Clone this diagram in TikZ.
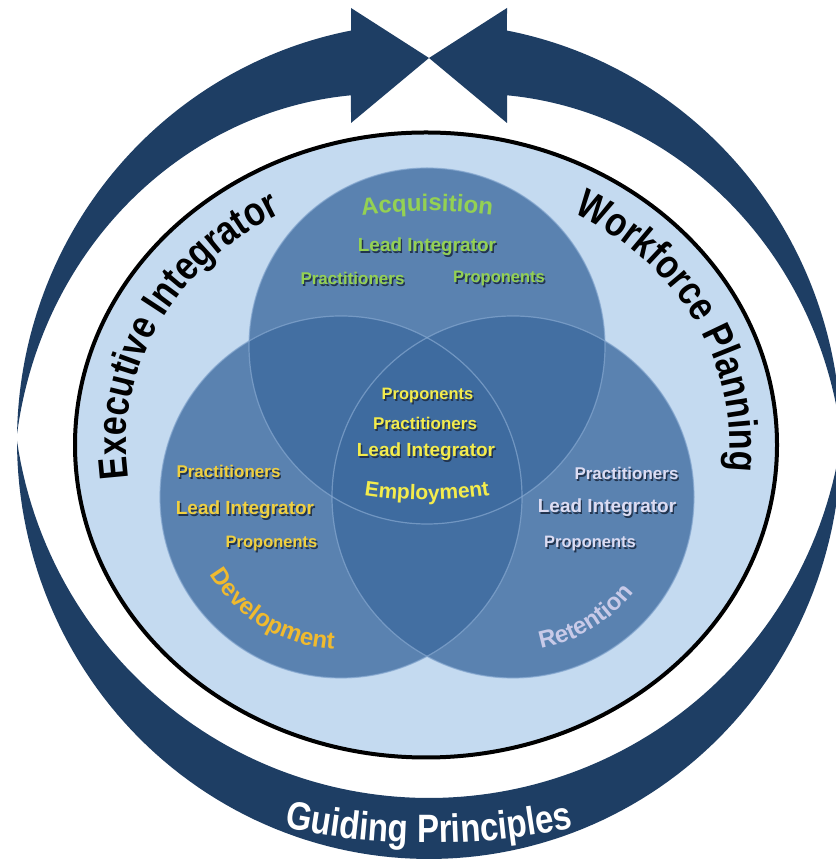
\documentclass[tikz,border=0pt]{standalone}
\usepackage{fontspec}
\setmainfont{Liberation Sans}
\usetikzlibrary{decorations.text}
\definecolor{navy}{HTML}{1E3E64}
\definecolor{diskc}{HTML}{C4DAF0}
\definecolor{vennc}{HTML}{3D6A9F}
\definecolor{vennedge}{HTML}{86A8D0}
\definecolor{grn}{HTML}{94D153}
\definecolor{ylw}{HTML}{F4EC4C}
\definecolor{ylwo}{HTML}{F0D040}
\definecolor{goldc}{HTML}{F0BA2E}
\definecolor{lav}{HTML}{DCDCF2}
\definecolor{lavd}{HTML}{C8CAE8}
\definecolor{shd}{HTML}{22344E}
\newcommand{\fs}[1]{\fontsize{#1}{#1}\selectfont}
\newcommand{\shtxt}[2]{\makebox[0pt][l]{\hspace{1.4pt}\raisebox{-1.4pt}{\textcolor{shd}{#2}}}\textcolor{#1}{#2}}
\tikzset{
  lbl/.style={anchor=base, inner sep=0pt},
  vennfill/.style={fill=vennc, fill opacity=0.78},
  vennline/.style={draw=vennedge, line width=1.2pt, draw opacity=0.7},
}
\begin{document}
\begin{tikzpicture}[x=1pt,y=1pt]
\useasboundingbox (0,0) rectangle (835,861);
\fill[white] (0,0) rectangle (835,861);
% outer ring: left arrow
\fill[navy] plot[domain=179:100.91, samples=80, variable=\t] ({429+412*cos(\t)},{420+418*sin(\t)})
  -- (351,853) -- (429,803) -- (351,738)
  -- plot[domain=102.93:179, samples=80, variable=\t] ({429+(412-0.832*(179-\t))*cos(\t)},{420+(418-0.832*(179-\t))*sin(\t)}) -- cycle;
% right arrow
\fill[navy] plot[domain=179:100.91, samples=80, variable=\t] ({429-412*cos(\t)},{420+418*sin(\t)})
  -- (507,853) -- (429,803) -- (507,738)
  -- plot[domain=102.93:179, samples=80, variable=\t] ({429-(412-0.832*(179-\t))*cos(\t)},{420+(418-0.832*(179-\t))*sin(\t)}) -- cycle;
% bottom crescent
\fill[navy] plot[domain=180:360, samples=120, variable=\t] ({429+412*cos(\t)},{420+418*sin(\t)})
  -- plot[domain=360:180, samples=120, variable=\t] ({429+(412+61*sin(\t))*cos(\t)},{420+(418+61*sin(\t))*sin(\t)}) -- cycle;
% disk
\filldraw[fill=diskc, draw=black, line width=4pt] (426,416) ellipse [x radius=351, y radius=312.5];
% venn circles
\fill[vennfill] (427,515) circle[radius=178];
\fill[vennfill] (341,364) circle[radius=181];
\fill[vennfill] (513,364) circle[radius=181];
\draw[vennline] (427,515) circle[radius=178];
\draw[vennline] (341,364) circle[radius=181];
\draw[vennline] (513,364) circle[radius=181];
% outer curved titles
\path[decorate, decoration={text along path, text align=center, transform={yscale=1.2}, text={|\fs{34}\bfseries|Executive Integrator}}]
  (428,416) ++(204:302 and 265) arc[start angle=204, end angle=104, x radius=302, y radius=265];
\path[decorate, decoration={text along path, text align=center, transform={yscale=1.2}, text={|\fs{34}\bfseries|Workforce Planning}}]
  (428,416) ++(75:302 and 265) arc[start angle=75, end angle=-21, x radius=302, y radius=265];
\path[decorate, decoration={text along path, text align=center, transform={yscale=1.2}, text color=white, text={|\fs{33}\bfseries|Guiding Principles}}]
  (429,718) ++(255:700) arc[start angle=255, end angle=285, radius=700];
% acquisition
\path[decorate, decoration={text along path, text align=center, text color=grn, text={|\fs{24}\bfseries|Acquisition}}]
  (427,150) ++(100:500) arc[start angle=100, end angle=80, radius=500];
\node[lbl, font=\bfseries\fs{19}] (aLead) at (427,609) {\shtxt{grn}{Lead Integrator}};
\node[lbl, font=\bfseries\fs{17}] (aPrac) at (352.5,576) {\shtxt{grn}{Practitioners}};
\node[lbl, font=\bfseries\fs{16.5}] (aProp) at (499,578) {\shtxt{grn}{Proponents}};
% employment (centre)
\node[lbl, font=\bfseries\fs{16.5}] (eProp) at (427.5,461) {\shtxt{ylw}{Proponents}};
\node[lbl, font=\bfseries\fs{17}] (ePrac) at (425,431) {\shtxt{ylw}{Practitioners}};
\node[lbl, font=\bfseries\fs{19}] (eLead) at (426,404) {\shtxt{ylw}{Lead Integrator}};
\path[decorate, decoration={text along path, text align=center, text color=ylw, text={|\fs{21}\bfseries|Employment}}]
  (427,761) ++(258:400) arc[start angle=258, end angle=282, radius=400];
% development
\node[lbl, font=\bfseries\fs{17}] (dPrac) at (228.5,383) {\shtxt{ylwo}{Practitioners}};
\node[lbl, font=\bfseries\fs{19}] (dLead) at (245,346) {\shtxt{ylwo}{Lead Integrator}};
\node[lbl, font=\bfseries\fs{16.5}] (dProp) at (271.5,313) {\shtxt{ylwo}{Proponents}};
\path[decorate, decoration={text along path, text align=center, text color=goldc, text={|\fs{24}\bfseries|Development}}]
  (341,364) ++(198:152) arc[start angle=198, end angle=280, radius=152];
% retention
\node[lbl, font=\bfseries\fs{17}] (rPrac) at (626.5,381) {\shtxt{lav}{Practitioners}};
\node[lbl, font=\bfseries\fs{19}] (rLead) at (607,348) {\shtxt{lav}{Lead Integrator}};
\node[lbl, font=\bfseries\fs{16.5}] (rProp) at (590,313) {\shtxt{lav}{Proponents}};
\path[decorate, decoration={text along path, text align=center, text color=lavd, text={|\fs{24}\bfseries|Retention}}]
  (513,364) ++(260:154) arc[start angle=260, end angle=342, radius=154];
\end{tikzpicture}
\end{document}
